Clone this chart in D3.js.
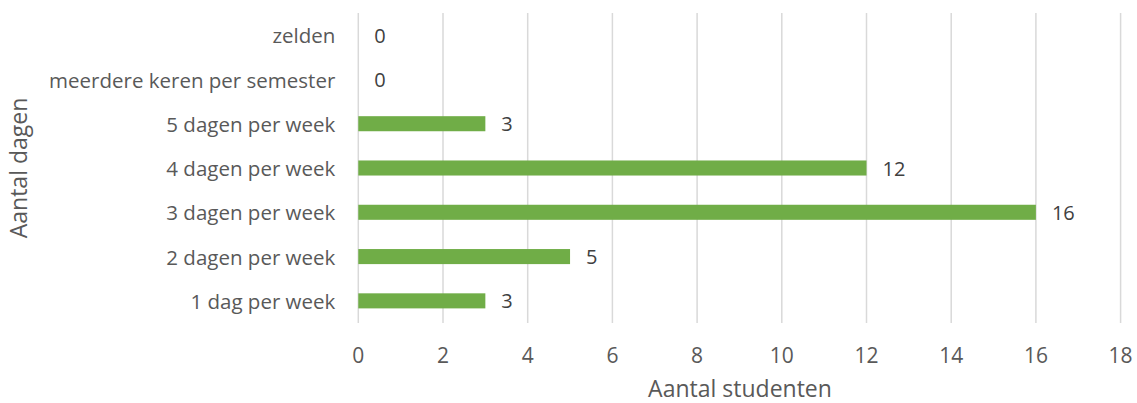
<!DOCTYPE html>
<html><head><meta charset="utf-8">
<script src="https://cdn.jsdelivr.net/npm/d3@7"></script>
<style>body{margin:0;background:#fff;}svg{display:block;font-family:"Open Sans","Noto Sans",sans-serif;}</style>
</head><body><svg id="c" width="1137" height="403"></svg>
<script>
const categories = ["zelden","meerdere keren per semester","5 dagen per week","4 dagen per week","3 dagen per week","2 dagen per week","1 dag per week"];
const values = [0,0,3,12,16,5,3];
const xTicks = [0,2,4,6,8,10,12,14,16,18];
const xTitle = "Aantal studenten";
const yTitle = "Aantal dagen";

(function(){
const svg = d3.select("#c");
const mLeft = 358.3, mRight = 1120.6, mTop = 13, mBottom = 323;
const x = d3.scaleLinear().domain([0,18]).range([mLeft,mRight]);
const y = d3.scaleBand().domain(categories).range([mTop,mBottom]).paddingInner(0.66).paddingOuter(0.33);
const txt = "#595959";

svg.append("g").selectAll("line").data(xTicks).join("line")
  .attr("x1",d=>x(d)).attr("x2",d=>x(d)).attr("y1",mTop).attr("y2",mBottom)
  .attr("stroke","#d9d9d9").attr("stroke-width",1.5);

svg.append("g").selectAll("rect").data(categories).join("rect")
  .attr("x",x(0)).attr("y",d=>y(d)).attr("width",(d,i)=>x(values[i])-x(0)).attr("height",y.bandwidth())
  .attr("fill","#70ad47");

svg.append("g").selectAll("text").data(categories).join("text")
  .attr("x",(d,i)=>x(values[i])+16).attr("y",d=>y(d)+y.bandwidth()/2).attr("dy","0.38em")
  .attr("fill","#404040").attr("font-size",20).text((d,i)=>values[i]);

svg.append("g").selectAll("text").data(categories).join("text")
  .attr("x",mLeft-23).attr("y",d=>y(d)+y.bandwidth()/2).attr("dy","0.4em").attr("text-anchor","end")
  .attr("fill",txt).attr("font-size",20.5).text(d=>d);

svg.append("g").selectAll("text").data(xTicks).join("text")
  .attr("x",d=>x(d)).attr("y",363).attr("text-anchor","middle")
  .attr("fill",txt).attr("font-size",21).text(d=>d);

svg.append("text").attr("x",740).attr("y",397).attr("text-anchor","middle")
  .attr("fill",txt).attr("font-size",23).text(xTitle);
svg.append("text").attr("transform",`translate(27,168) rotate(-90)`).attr("text-anchor","middle")
  .attr("fill",txt).attr("font-size",23).text(yTitle);
})();
</script></body></html>
